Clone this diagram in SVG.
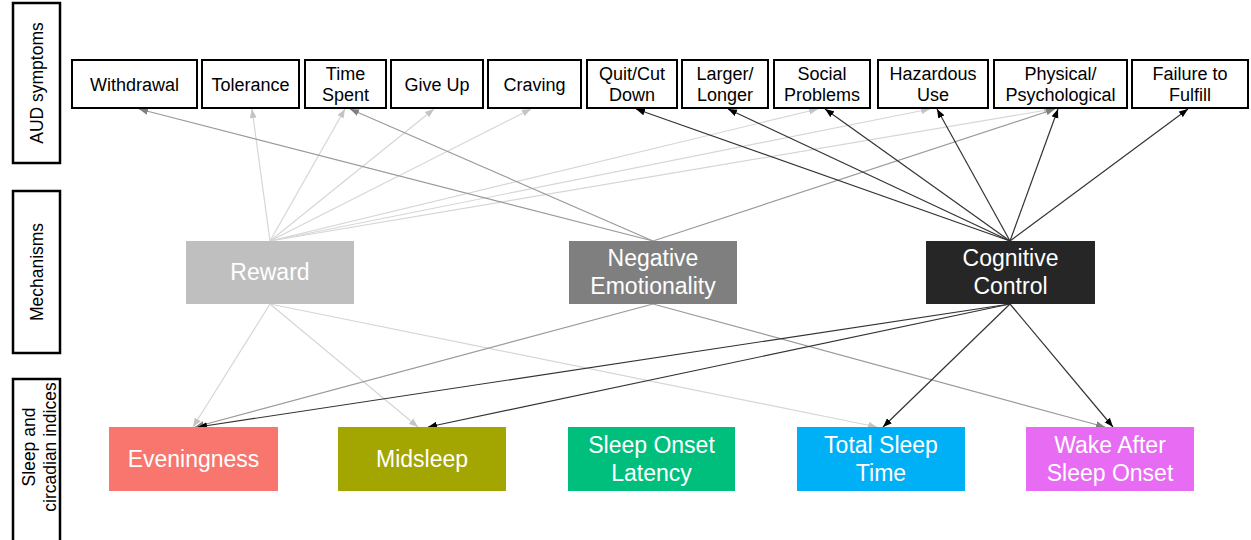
<svg xmlns="http://www.w3.org/2000/svg" width="1251" height="540" viewBox="0 0 1251 540">
<style>
text{font-family:"Liberation Sans",Arial,sans-serif;}
.side{fill:#fff;stroke:#000;stroke-width:2.5;}
.sidet{font-size:17.5px;fill:#000;text-anchor:middle;}
.sym{fill:#fff;stroke:#000;stroke-width:2;}
.symt{font-size:18px;fill:#000;text-anchor:middle;}
.big{font-size:23px;fill:#fff;text-anchor:middle;}
.lr{stroke:#d6d6d6;stroke-width:1.2;fill:none;marker-end:url(#ar);}
.ln{stroke:#9a9a9a;stroke-width:1.2;fill:none;marker-end:url(#an);}
.lc{stroke:#333;stroke-width:1.2;fill:none;marker-end:url(#ac);}
</style>
<defs>
<marker id="ar" markerUnits="userSpaceOnUse" markerWidth="10" markerHeight="8" refX="9" refY="4" orient="auto"><path d="M0,0.5 L9,4 L0,7.5 z" fill="#c4c4c4"/></marker>
<marker id="an" markerUnits="userSpaceOnUse" markerWidth="10" markerHeight="8" refX="9" refY="4" orient="auto"><path d="M0,0.5 L9,4 L0,7.5 z" fill="#808080"/></marker>
<marker id="ac" markerUnits="userSpaceOnUse" markerWidth="10" markerHeight="8" refX="9" refY="4" orient="auto"><path d="M0,0.5 L9,4 L0,7.5 z" fill="#000"/></marker>
</defs>
<rect width="1251" height="540" fill="#fff"/>

<g id="connectors">
<line class="lr" x1="270" y1="241" x2="252" y2="109"/>
<line class="lr" x1="270" y1="241" x2="345" y2="109"/>
<line class="lr" x1="270" y1="241" x2="434" y2="109"/>
<line class="lr" x1="270" y1="241" x2="531" y2="109"/>
<line class="lr" x1="270" y1="241" x2="818" y2="109"/>
<line class="lr" x1="270" y1="241" x2="930" y2="109"/>
<line class="lr" x1="270" y1="241" x2="1053" y2="109"/>
<line class="ln" x1="653" y1="241" x2="139" y2="109"/>
<line class="ln" x1="653" y1="241" x2="350" y2="109"/>
<line class="ln" x1="653" y1="241" x2="1055" y2="109"/>
<line class="lc" x1="1010" y1="241" x2="636" y2="109"/>
<line class="lc" x1="1010" y1="241" x2="728" y2="109"/>
<line class="lc" x1="1010" y1="241" x2="825" y2="109"/>
<line class="lc" x1="1010" y1="241" x2="937" y2="109"/>
<line class="lc" x1="1010" y1="241" x2="1058" y2="109"/>
<line class="lc" x1="1010" y1="241" x2="1188" y2="109"/>
<line class="lr" x1="270" y1="304" x2="193" y2="427"/>
<line class="lr" x1="270" y1="304" x2="418" y2="427"/>
<line class="lr" x1="270" y1="304" x2="877" y2="427"/>
<line class="ln" x1="653" y1="304" x2="195" y2="427"/>
<line class="ln" x1="653" y1="304" x2="1105" y2="427"/>
<line class="lc" x1="1010" y1="304" x2="198" y2="427"/>
<line class="lc" x1="1010" y1="304" x2="428" y2="427"/>
<line class="lc" x1="1010" y1="304" x2="883" y2="427"/>
<line class="lc" x1="1010" y1="304" x2="1113" y2="427"/>
</g>

<g id="label-aud"><rect class="side" x="13" y="3" width="47" height="160"/><text class="sidet" transform="translate(43,83) rotate(-90)">AUD symptoms</text></g>
<g id="label-mech"><rect class="side" x="13" y="191" width="47" height="162"/><text class="sidet" transform="translate(43,272) rotate(-90)">Mechanisms</text></g>
<g id="label-sleep"><rect class="side" x="13" y="379" width="47" height="165"/><text class="sidet" transform="translate(35,447) rotate(-90)">Sleep and</text><text class="sidet" transform="translate(56,447) rotate(-90)">circadian indices</text></g>

<g id="withdrawal"><rect class="sym" x="72" y="60" width="125" height="48"/><text class="symt" x="134.5" y="91">Withdrawal</text></g>
<g id="tolerance"><rect class="sym" x="202" y="60" width="97" height="48"/><text class="symt" x="250.5" y="91">Tolerance</text></g>
<g id="time-spent"><rect class="sym" x="305" y="60" width="81" height="48"/><text class="symt" x="345.5" y="80">Time</text><text class="symt" x="345.5" y="101">Spent</text></g>
<g id="give-up"><rect class="sym" x="391" y="60" width="92" height="48"/><text class="symt" x="437" y="91">Give Up</text></g>
<g id="craving"><rect class="sym" x="488" y="60" width="93" height="48"/><text class="symt" x="534.5" y="91">Craving</text></g>
<g id="quit"><rect class="sym" x="587" y="60" width="90" height="48"/><text class="symt" x="632" y="80">Quit/Cut</text><text class="symt" x="632" y="101">Down</text></g>
<g id="larger"><rect class="sym" x="682" y="60" width="86" height="48"/><text class="symt" x="725" y="80">Larger/</text><text class="symt" x="725" y="101">Longer</text></g>
<g id="social"><rect class="sym" x="774" y="60" width="96" height="48"/><text class="symt" x="822" y="80">Social</text><text class="symt" x="822" y="101">Problems</text></g>
<g id="hazardous"><rect class="sym" x="878" y="60" width="110" height="48"/><text class="symt" x="933" y="80">Hazardous</text><text class="symt" x="933" y="101">Use</text></g>
<g id="physical"><rect class="sym" x="994" y="60" width="133" height="48"/><text class="symt" x="1060.5" y="80">Physical/</text><text class="symt" x="1060.5" y="101">Psychological</text></g>
<g id="failure"><rect class="sym" x="1132" y="60" width="116" height="48"/><text class="symt" x="1190" y="80">Failure to</text><text class="symt" x="1190" y="101">Fulfill</text></g>

<g id="reward"><rect x="186" y="241" width="168" height="63" fill="#bfbfbf"/><text class="big" x="270" y="280" fill="#f4f4f4">Reward</text></g>
<g id="negative-emotionality"><rect x="569" y="241" width="168" height="63" fill="#7f7f7f"/><text class="big" x="653" y="266">Negative</text><text class="big" x="653" y="294">Emotionality</text></g>
<g id="cognitive-control"><rect x="926" y="241" width="169" height="63" fill="#262626"/><text class="big" x="1010.5" y="266">Cognitive</text><text class="big" x="1010.5" y="294">Control</text></g>

<g id="eveningness"><rect x="109" y="427" width="169" height="64" fill="#f8766d"/><text class="big" x="193.5" y="467">Eveningness</text></g>
<g id="midsleep"><rect x="338" y="427" width="168" height="64" fill="#a3a500"/><text class="big" x="422" y="467">Midsleep</text></g>
<g id="sleep-onset-latency"><rect x="568" y="427" width="167" height="64" fill="#00bf7d"/><text class="big" x="651.5" y="453">Sleep Onset</text><text class="big" x="651.5" y="481">Latency</text></g>
<g id="total-sleep-time"><rect x="797" y="427" width="168" height="64" fill="#00b0f6"/><text class="big" x="881" y="453">Total Sleep</text><text class="big" x="881" y="481">Time</text></g>
<g id="wake-after-sleep-onset"><rect x="1026" y="427" width="168" height="64" fill="#e76bf3"/><text class="big" x="1110" y="453">Wake After</text><text class="big" x="1110" y="481">Sleep Onset</text></g>
</svg>
